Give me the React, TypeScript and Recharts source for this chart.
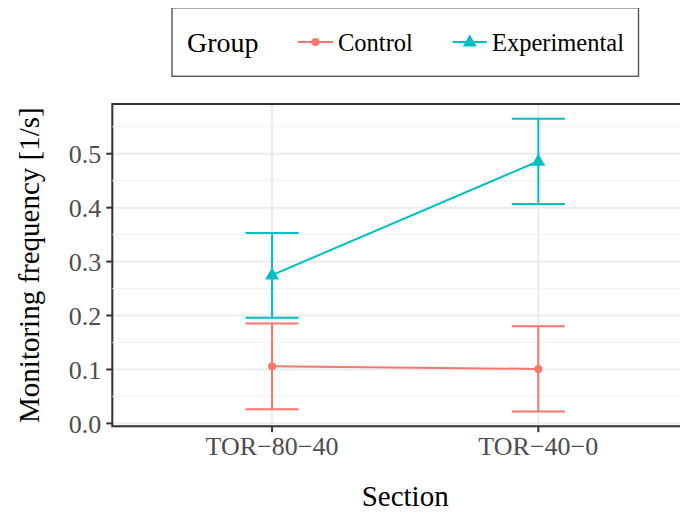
import React from 'react';
import {
  ComposedChart,
  Line,
  XAxis,
  YAxis,
  CartesianGrid,
  ErrorBar,
  ReferenceLine,
  ReferenceArea,
} from 'recharts';

const sections = ['TOR−80−40', 'TOR−40−0'];
const controlMean = [0.106, 0.101];
const controlLow = [0.026, 0.022];
const controlHigh = [0.185, 0.18];
const expMean = [0.275, 0.486];
const expLow = [0.196, 0.407];
const expHigh = [0.353, 0.565];
const yTicks = [0, 0.1, 0.2, 0.3, 0.4, 0.5];
const yMinorTicks = [0.05, 0.15, 0.25, 0.35, 0.45, 0.55];
const groupNames = ['Control', 'Experimental'];

const RED = '#F8766D';
const TEAL = '#00BFC4';
const FONT = '"Liberation Serif", "Times New Roman", serif';

const Y_DOMAIN: [number, number] = [-0.0052, 0.5922];
const X_DOMAIN: [number, number] = [0.4, 2.6];

const build = (mean: number[], low: number[], high: number[]) =>
  sections.map((s, i) => ({
    x: i + 1,
    section: s,
    mean: mean[i],
    err: [mean[i] - low[i], high[i] - mean[i]],
  }));

const controlData = build(controlMean, controlLow, controlHigh);
const expData = build(expMean, expLow, expHigh);

const CircleDot = (props: any) => {
  const { cx, cy } = props;
  if (cx == null || cy == null) return null;
  return <circle cx={cx} cy={cy} r={4} fill={RED} stroke="none" />;
};

const TriangleDot = (props: any) => {
  const { cx, cy } = props;
  if (cx == null || cy == null) return null;
  return (
    <path
      d={`M${cx},${cy - 7.5} L${cx + 7},${cy + 4.5} L${cx - 7},${cy + 4.5} Z`}
      fill={TEAL}
      stroke="none"
    />
  );
};

const YTitle = (props: any) => {
  const vb = props.viewBox || { x: 0, y: 0, width: 0, height: 0 };
  const x = vb.x + 31;
  const cy = vb.y + vb.height / 2;
  return (
    <text
      x={x}
      y={cy}
      transform={`rotate(-90, ${x}, ${cy})`}
      textAnchor="middle"
      fontFamily={FONT}
      fontSize={29}
      fill="#000"
    >
      Monitoring frequency [1/s]
    </text>
  );
};

const LegendBox = () => (
  <svg
    width={688}
    height={90}
    style={{ position: 'absolute', left: -8, top: -8 }}
  >
    <rect x={172} y={7.8} width={466.5} height={68.5} fill="#fff" stroke="#555" strokeWidth={1.4} />
    <text x={187} y={51.5} fontFamily={FONT} fontSize={28} fill="#000">
      Group
    </text>
    <line x1={298} x2={333} y1={42} y2={42} stroke={RED} strokeWidth={2} />
    <circle cx={315.5} cy={42} r={4} fill={RED} />
    <text x={338} y={51} fontFamily={FONT} fontSize={24.5} fill="#000">
      {groupNames[0]}
    </text>
    <line x1={452.7} x2={486.7} y1={42} y2={42} stroke={TEAL} strokeWidth={2} />
    <path d="M469.7,34.5 L476.7,46.5 L462.7,46.5 Z" fill={TEAL} />
    <text x={492} y={51} fontFamily={FONT} fontSize={24.5} fill="#000">
      {groupNames[1]}
    </text>
  </svg>
);

export default function App() {
  return (
    <div style={{ position: 'relative', width: 680, height: 507, marginBottom: -8 }}>
      <div style={{ width: 680, height: 507, overflow: 'hidden' }}>
        <ComposedChart
          width={700}
          height={507}
          margin={{ top: 96, right: 9.95, left: 0, bottom: 0 }}
        >
          {yMinorTicks.map((v) => (
            <ReferenceLine key={v} y={v} stroke="#F2F2F2" strokeWidth={1} />
          ))}
          <CartesianGrid stroke="#EBEBEB" strokeWidth={2} />
          <XAxis
            type="number"
            dataKey="x"
            domain={X_DOMAIN}
            ticks={[1, 2]}
            allowDataOverflow
            tickFormatter={(v: number) => sections[v - 1]}
            axisLine={false}
            tickLine={{ stroke: '#333333', strokeWidth: 2 }}
            tickSize={6}
            tickMargin={4}
            height={88.8}
            tick={{ fill: '#4D4D4D', fontSize: 26, fontFamily: FONT }}
            label={{
              value: 'Section',
              position: 'insideBottom',
              offset: 9,
              style: { fill: '#000', fontSize: 29, fontFamily: FONT },
            }}
          />
          <YAxis
            type="number"
            domain={Y_DOMAIN}
            ticks={yTicks}
            allowDataOverflow
            tickFormatter={(v: number) => v.toFixed(1)}
            axisLine={false}
            tickLine={{ stroke: '#333333', strokeWidth: 2 }}
            tickSize={6}
            tickMargin={5}
            width={104.3}
            tick={{ fill: '#4D4D4D', fontSize: 26, fontFamily: FONT }}
            label={<YTitle />}
          />
          <Line
            data={controlData}
            dataKey="mean"
            stroke={RED}
            strokeWidth={2}
            dot={<CircleDot />}
            activeDot={false}
            isAnimationActive={false}
          >
            <ErrorBar dataKey="err" width={26.5} stroke={RED} strokeWidth={2} direction="y" isAnimationActive={false} />
          </Line>
          <Line
            data={expData}
            dataKey="mean"
            stroke={TEAL}
            strokeWidth={2}
            dot={<TriangleDot />}
            activeDot={false}
            isAnimationActive={false}
          >
            <ErrorBar dataKey="err" width={26.5} stroke={TEAL} strokeWidth={2} direction="y" isAnimationActive={false} />
          </Line>
          <ReferenceArea
            x1={X_DOMAIN[0]}
            x2={X_DOMAIN[1]}
            y1={Y_DOMAIN[0]}
            y2={Y_DOMAIN[1]}
            fill="none"
            fillOpacity={0}
            stroke="#333333"
            strokeWidth={2}
            ifOverflow="visible"
          />
        </ComposedChart>
      </div>
      <LegendBox />
    </div>
  );
}
